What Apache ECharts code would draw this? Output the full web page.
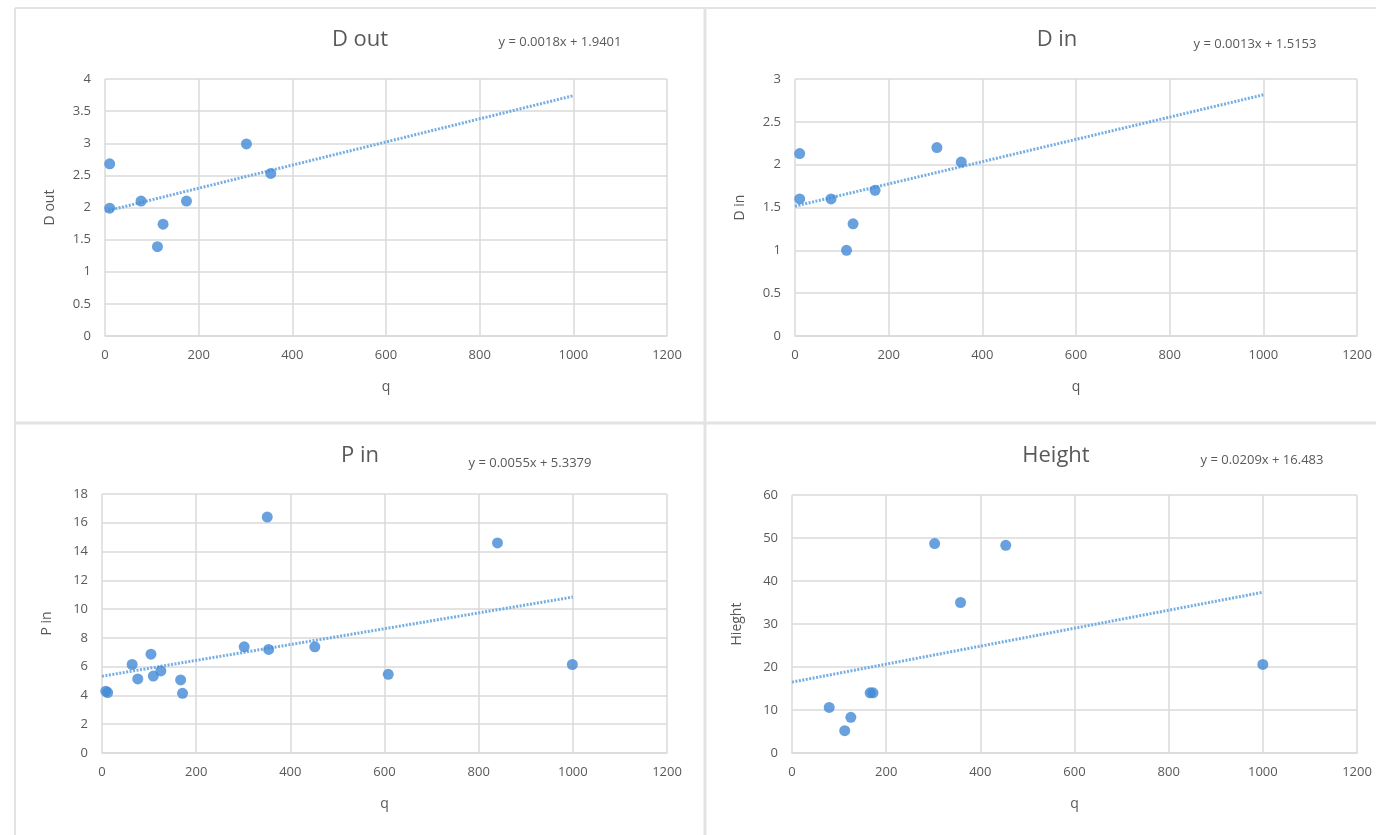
<!DOCTYPE html>
<html><head><meta charset="utf-8">
<script src="https://cdn.jsdelivr.net/npm/echarts@6/dist/echarts.min.js"></script>
<style>html,body{margin:0;padding:0;background:#fff}#c{width:1376px;height:835px}</style>
</head><body><div id="c"></div>
<script>
// ---- data ----
const doutPoints = [[10,2.68],[10,1.99],[77,2.10],[112,1.39],[124,1.74],[174,2.10],[302,2.99],[354,2.53]];
const doutTrend = [[0,1.9401],[1000,3.7401]];
const dinPoints = [[10,2.13],[10,1.60],[77,1.60],[110,1.00],[124,1.31],[171,1.70],[303,2.20],[355,2.03]];
const dinTrend = [[0,1.5153],[1000,2.8153]];
const pinPoints = [[8,4.3],[12,4.2],[64,6.15],[76,5.15],[104,6.87],[109,5.35],[125,5.7],[167,5.08],[171,4.15],[302,7.38],[351,16.4],[354,7.2],[452,7.38],[608,5.47],[840,14.6],[999,6.15]];
const pinTrend = [[0,5.3379],[1000,10.8379]];
const heightPoints = [[79,10.6],[112,5.2],[125,8.3],[166,14],[172,14],[303,48.7],[358,35.0],[454,48.3],[1000,20.6]];
const heightTrend = [[0,16.483],[1000,37.383]];

const titles = ['D out','D in','P in','Height'];
const equations = ['y = 0.0018x + 1.9401','y = 0.0013x + 1.5153','y = 0.0055x + 5.3379','y = 0.0209x + 16.483'];
const yNames = ['D out','D in','P in','Hieght'];
const xName = 'q';
const yMax = [4,3,18,60];
const yStep = [0.5,0.5,2,10];
const xMax = 1200, xStep = 200;

const FONT = 'Open Sans';
const TXT = '#595959';
const GRID = '#dadada';
const BLUE = '#4289d4';

const grids = [
  {left:105, top:79, width:562, height:257},
  {left:795, top:79, width:562, height:257},
  {left:102, top:494, width:565, height:259},
  {left:792, top:495, width:565, height:258}
];
const titlePos = [[360,40],[1057,40],[360,456],[1056,456]];
const eqPos = [[560,42],[1255,44],[530,463],[1262,460]];
const pts = [doutPoints,dinPoints,pinPoints,heightPoints];
const trends = [doutTrend,dinTrend,pinTrend,heightTrend];

const option = {
  backgroundColor:'#fff',
  animation:false,
  textStyle:{fontFamily:FONT},
  grid: grids.map(g=>Object.assign({containLabel:false},g)),
  xAxis: grids.map((g,i)=>({
    gridIndex:i, type:'value', min:0, max:xMax, interval:xStep,
    name:xName, nameLocation:'middle', nameGap:44,
    nameTextStyle:{color:TXT,fontSize:14,fontFamily:FONT},
    axisLine:{show:true,lineStyle:{color:GRID,width:1.5}},
    axisTick:{show:false},
    axisLabel:{color:TXT,fontSize:13,margin:13,fontFamily:FONT,formatter:v=>String(v)},
    splitLine:{show:true,lineStyle:{color:GRID,width:1.5}}
  })),
  yAxis: grids.map((g,i)=>({
    gridIndex:i, type:'value', min:0, max:yMax[i], interval:yStep[i],
    name:yNames[i], nameLocation:'middle', nameGap:48, nameRotate:90,
    nameTextStyle:{color:TXT,fontSize:14,fontFamily:FONT},
    axisLine:{show:false},
    axisTick:{show:false},
    axisLabel:{color:TXT,fontSize:13,margin:14,fontFamily:FONT,formatter:v=>String(v)},
    splitLine:{show:true,lineStyle:{color:GRID,width:1.5}}
  })),
  series: [].concat(
    trends.map((t,i)=>({
      type:'line', xAxisIndex:i, yAxisIndex:i, data:t, symbol:'none',
      lineStyle:{color:'#75aee2',width:3,type:[2,1.5]}, z:2, silent:true
    })),
    pts.map((p,i)=>({
      type:'scatter', xAxisIndex:i, yAxisIndex:i, data:p, symbol:'circle', symbolSize:11,
      itemStyle:{color:BLUE}, z:3
    }))
  ),
  graphic: [].concat(
    [
      {type:'line', shape:{x1:15,y1:8,x2:1376,y2:8}, style:{stroke:'#e3e3e3',lineWidth:2}},
      {type:'line', shape:{x1:15,y1:8,x2:15,y2:835}, style:{stroke:'#e3e3e3',lineWidth:2}},
      {type:'line', shape:{x1:705,y1:8,x2:705,y2:835}, style:{stroke:'#e3e3e3',lineWidth:3}},
      {type:'line', shape:{x1:15,y1:423,x2:1376,y2:423}, style:{stroke:'#e3e3e3',lineWidth:3}}
    ],
    titles.map((t,i)=>({type:'text', x:titlePos[i][0], y:titlePos[i][1],
      style:{text:t, fill:TXT, font:'22px "'+FONT+'"', textAlign:'center', textVerticalAlign:'middle'}})),
    equations.map((t,i)=>({type:'text', x:eqPos[i][0], y:eqPos[i][1],
      style:{text:t, fill:TXT, font:'13px "'+FONT+'"', textAlign:'center', textVerticalAlign:'middle'}}))
  )
};
const chart = echarts.init(document.getElementById('c'));
chart.setOption(option);
</script></body></html>
